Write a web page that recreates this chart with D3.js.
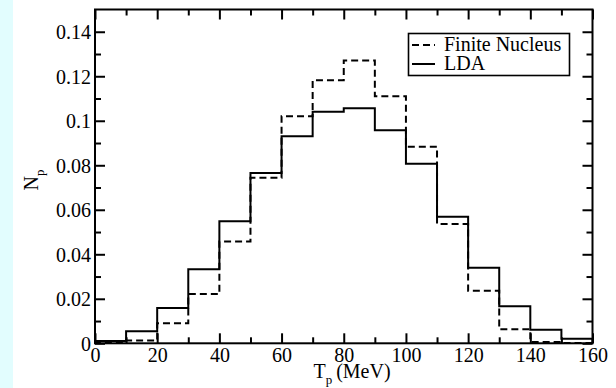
<!DOCTYPE html>
<html><head><meta charset="utf-8">
<script src="https://cdn.jsdelivr.net/npm/d3@7/dist/d3.min.js"></script>
<style>body{margin:0;background:#fff}svg{display:block}</style>
</head><body><svg id="c" width="616" height="388"></svg>
<script>
const binStarts = [0,10,20,30,40,50,60,70,80,90,100,110,120,130,140,150];
const binWidth = 10;
const lda    = [0.0010,0.0054,0.0159,0.0333,0.0548,0.0765,0.0930,0.1041,0.1056,0.0957,0.0807,0.0569,0.0339,0.0167,0.0061,0.0021];
const finite = [0.0005,0.0013,0.0090,0.0221,0.0458,0.0744,0.1020,0.1182,0.1271,0.1110,0.0883,0.0536,0.0236,0.0063,0.0006,0.0001];
const xMajor = [0,20,40,60,80,100,120,140,160];
const xMinor = [10,30,50,70,90,110,130,150];
const yMajor = [0,0.02,0.04,0.06,0.08,0.1,0.12,0.14];
const yMinor = [0.01,0.03,0.05,0.07,0.09,0.11,0.13];
const seriesNames = ["Finite Nucleus","LDA"];

const svg = d3.select("#c");
svg.append("rect").attr("x",0).attr("y",0).attr("width",13).attr("height",388).attr("fill","#e2fdfe");

const L=95, R=592.5, T=9.5, B=343.3;
const x = d3.scaleLinear().domain([0,160]).range([L,R]);
const y = d3.scaleLinear().domain([0,0.15]).range([B,T]);

function stepPts(vals){
  const pts=[[binStarts[0],0]];
  vals.forEach((v,i)=>pts.push([binStarts[i],v]));
  const last = binStarts[binStarts.length-1]+binWidth;
  pts.push([last,vals[vals.length-1]]);
  pts.push([last,0]);
  return pts;
}
const line = d3.line().x(d=>x(d[0])).y(d=>y(d[1])).curve(d3.curveStepAfter);

svg.append("path").attr("d",line(stepPts(finite))).attr("fill","none").attr("stroke","#000").attr("stroke-width",2).attr("stroke-dasharray","7,4");
svg.append("path").attr("d",line(stepPts(lda))).attr("fill","none").attr("stroke","#000").attr("stroke-width",2);

const fmtY = d => d===0 ? "0" : d3.format(".2~f")(d);
const gB = svg.append("g").attr("transform",`translate(0,${B})`)
  .call(d3.axisBottom(x).tickValues(xMajor).tickSizeInner(-10).tickSizeOuter(0).tickPadding(5).tickFormat(d3.format("d")));
svg.append("g").attr("transform",`translate(0,${T})`)
  .call(d3.axisTop(x).tickValues(xMajor).tickSizeInner(-10).tickSizeOuter(0).tickFormat(""));
const gL = svg.append("g").attr("transform",`translate(${L},0)`)
  .call(d3.axisLeft(y).tickValues(yMajor).tickSizeInner(-10).tickSizeOuter(0).tickPadding(4).tickFormat(fmtY));
svg.append("g").attr("transform",`translate(${R},0)`)
  .call(d3.axisRight(y).tickValues(yMajor).tickSizeInner(-10).tickSizeOuter(0).tickFormat(""));
[[d3.axisBottom(x).tickValues(xMinor),B],[d3.axisTop(x).tickValues(xMinor),T]].forEach(([a,p])=>{
  svg.append("g").attr("transform",`translate(0,${p})`).call(a.tickSizeInner(-6).tickSizeOuter(0).tickFormat(""));
});
[[d3.axisLeft(y).tickValues(yMinor),L],[d3.axisRight(y).tickValues(yMinor),R]].forEach(([a,p])=>{
  svg.append("g").attr("transform",`translate(${p},0)`).call(a.tickSizeInner(-6).tickSizeOuter(0).tickFormat(""));
});
svg.selectAll(".domain").remove();
svg.selectAll(".tick line").attr("stroke","#000").attr("stroke-width",2);
svg.selectAll(".tick text").attr("font-size",20).attr("fill","#000");
gB.selectAll(".tick text").attr("dy","0.68em");
gL.selectAll(".tick text").attr("dy","0.34em");

svg.append("rect").attr("x",L).attr("y",T).attr("width",R-L).attr("height",B-T).attr("fill","none").attr("stroke","#000").attr("stroke-width",2);

const xl = svg.append("text").attr("x",352).attr("y",378).attr("text-anchor","middle").attr("font-size",20);
xl.append("tspan").text("T");
xl.append("tspan").attr("font-size",13).attr("dy",6).text("p");
xl.append("tspan").attr("dy",-6).text("\u2009(MeV)");
const yl = svg.append("text").attr("transform","translate(38,180) rotate(-90)").attr("text-anchor","middle").attr("font-size",20);
yl.append("tspan").text("N");
yl.append("tspan").attr("font-size",13).attr("dy",6).text("p");

const lg = svg.append("g");
lg.append("rect").attr("x",408.5).attr("y",33.5).attr("width",161).attr("height",42).attr("fill","#fff").attr("stroke","#000").attr("stroke-width",1.6);
seriesNames.forEach((n,i)=>{
  const yy = 45 + i*19;
  lg.append("line").attr("x1",412).attr("x2",435).attr("y1",yy).attr("y2",yy).attr("stroke","#000").attr("stroke-width",2)
    .attr("stroke-dasharray", i===0 ? "7,4" : null);
  lg.append("text").attr("x",444).attr("y",yy+6).attr("font-size",20).text(n);
});

svg.selectAll("text").style("font-family","'Liberation Serif'").attr("fill","#000");
</script></body></html>
